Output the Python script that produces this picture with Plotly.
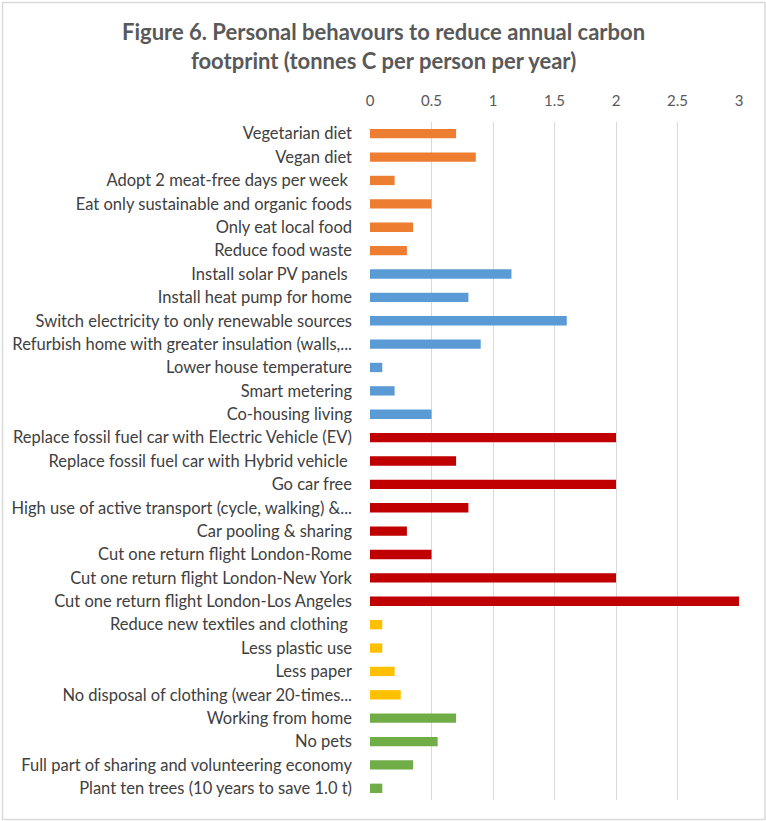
import plotly.graph_objects as go

categories = [
    "Vegetarian diet",
    "Vegan diet",
    "Adopt 2 meat-free days per week\u00a0",
    "Eat only sustainable and organic foods",
    "Only eat local food",
    "Reduce food waste",
    "Install solar PV panels\u00a0",
    "Install heat pump for home",
    "Switch electricity to only renewable sources",
    "Refurbish home with greater insulation (walls,...",
    "Lower house temperature",
    "Smart metering",
    "Co-housing living",
    "Replace fossil fuel car with Electric Vehicle (EV)",
    "Replace fossil fuel car with Hybrid vehicle\u00a0",
    "Go car free",
    "High use of active transport (cycle, walking) &...",
    "Car pooling & sharing",
    "Cut one return flight London-Rome",
    "Cut one return flight London-New York",
    "Cut one return flight London-Los Angeles",
    "Reduce new textiles and clothing\u00a0",
    "Less plastic use",
    "Less paper",
    "No disposal of clothing (wear 20-times...",
    "Working from home",
    "No pets",
    "Full part of sharing and volunteering economy",
    "Plant ten trees (10 years to save 1.0 t)",
]

values = [0.70, 0.86, 0.20, 0.50, 0.35, 0.30,
          1.15, 0.80, 1.60, 0.90, 0.10, 0.20, 0.50,
          2.0, 0.70, 2.0, 0.80, 0.30, 0.50, 2.0, 3.0,
          0.10, 0.10, 0.20, 0.25,
          0.70, 0.55, 0.35, 0.10]

groups = (["food"] * 6 + ["home"] * 7 + ["transport"] * 8 +
          ["consumption"] * 4 + ["other"] * 4)

group_colors = {
    "food": "#ED7D31",
    "home": "#5B9BD5",
    "transport": "#C00000",
    "consumption": "#FFC000",
    "other": "#70AD47",
}

tick_vals = [0, 0.5, 1, 1.5, 2, 2.5, 3]
tick_text = ["0", "0.5", "1", "1.5", "2", "2.5", "3"]

title_text = ("<b>Figure 6. Personal behavours to reduce annual carbon<br>"
              "footprint (tonnes C per person per year)</b>")

# plot area in pixels: x 370..739, y 122..800
PL, PR, PT, PB = 370, 739, 122, 800
PW, PH = PR - PL, PB - PT

fig = go.Figure(go.Bar(
    x=values,
    y=categories,
    orientation="h",
    marker=dict(color=[group_colors[g] for g in groups], line=dict(width=0)),
    hoverinfo="x+y",
))

fig.update_layout(
    width=766, height=821,
    paper_bgcolor="white", plot_bgcolor="white",
    margin=dict(l=PL, r=766 - PR, t=PT, b=821 - PB, autoexpand=False),
    bargap=0.6,
    showlegend=False,
    font=dict(family="Lato, Noto Sans, sans-serif", color="#404040", size=14),
    xaxis=dict(
        side="top", range=[0, 3], tickvals=tick_vals, ticktext=tick_text,
        showgrid=True, gridcolor="#D9D9D9", gridwidth=1,
        zeroline=False, showline=False, ticks="",
        tickfont=dict(size=15, color="#595959"),
        ticklabelstandoff=12, fixedrange=True,
    ),
    yaxis=dict(
        autorange="reversed", showgrid=False, showline=False, ticks="",
        tickfont=dict(size=16.5, color="#404040"),
        ticklabelstandoff=17, fixedrange=True,
    ),
    annotations=[dict(
        text=title_text, xref="paper", yref="paper",
        x=(383.5 - PL) / PW, y=1 + (PT - 46) / PH,
        xanchor="center", yanchor="middle", showarrow=False,
        font=dict(family="Lato, Noto Sans, sans-serif", size=22, color="#595959"),
    )],
    shapes=[dict(
        type="rect", xref="paper", yref="paper",
        x0=(2.5 - PL) / PW, x1=(765 - PL) / PW,
        y0=-(819.5 - PB) / PH, y1=1 + (PT - 2.5) / PH,
        line=dict(color="#D9D9D9", width=1.5), fillcolor="rgba(0,0,0,0)",
    )],
)

fig.write_html(
    "out.html",
    config={"displayModeBar": False},
    post_script="document.body.style.margin='0';document.body.style.overflow='hidden';",
)
